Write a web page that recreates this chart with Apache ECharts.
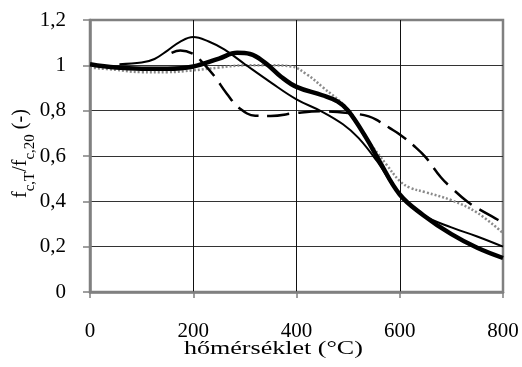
<!DOCTYPE html>
<html>
<head>
<meta charset="utf-8">
<style>html,body{margin:0;padding:0;background:#fff;}#c{width:522px;height:367px;}</style>
<script src="https://cdn.jsdelivr.net/npm/echarts@6/dist/echarts.min.js"></script>
</head>
<body>
<div id="c"></div>
<script>
var xTicks = [0, 200, 400, 600, 800];
var yTicks = [0, 0.2, 0.4, 0.6, 0.8, 1, 1.2];

var thickX = [0,50,100,150,200,250,285,310,340,370,400,450,480,500,535,560,600,645,700,750,800];
var thickY = [1.005,0.99,0.985,0.985,0.995,1.03,1.055,1.05,1.01,0.95,0.905,0.868,0.84,0.80,0.68,0.58,0.43,0.34,0.255,0.195,0.15];

var thinX = [57,100,125,150,175,200,230,260,300,350,400,450,490,520,555,600,645,700,750,800];
var thinY = [1.005,1.012,1.028,1.065,1.105,1.125,1.105,1.07,1.005,0.925,0.85,0.795,0.74,0.68,0.58,0.43,0.34,0.285,0.245,0.20];

var dashX = [158,175,200,215,240,265,290,320,350,400,450,500,540,560,580,600,630,650,680,700,730,750,785,800];
var dashY = [1.055,1.065,1.05,1.02,0.955,0.875,0.81,0.778,0.777,0.79,0.797,0.79,0.775,0.753,0.724,0.695,0.64,0.595,0.505,0.46,0.40,0.37,0.325,0.305];

var dotX = [0,50,100,150,200,250,300,350,390,420,450,500,535,575,600,620,650,700,750,800];
var dotY = [0.99,0.98,0.97,0.97,0.978,0.99,1.0,1.0,0.995,0.96,0.905,0.805,0.68,0.56,0.49,0.46,0.44,0.405,0.35,0.26];

function pairs(xs, ys) { return xs.map(function (x, i) { return [x, ys[i]]; }); }

var font = 'Liberation Serif';
var chart = echarts.init(document.getElementById('c'), null, {renderer: 'canvas'});
chart.setOption({
  animation: false,
  backgroundColor: '#fff',
  grid: {left: 90, right: 19, top: 20, bottom: 75, show: true, borderColor: '#808080', borderWidth: 2.5, backgroundColor: 'transparent'},
  xAxis: {
    type: 'value', min: 0, max: 800, interval: 200,
    axisLine: {show: true, onZero: false, lineStyle: {color: '#808080', width: 2.5}},
    axisTick: {show: true, length: 6, lineStyle: {color: '#808080', width: 1.5}},
    axisLabel: {margin: 29, color: '#000', fontFamily: font, fontSize: 21, formatter: function (v) { return String(v); }},
    splitLine: {show: true, showMinLine: false, showMaxLine: false, lineStyle: {color: '#111', width: 1}}
  },
  yAxis: {
    type: 'value', min: 0, max: 1.2, interval: 0.2,
    axisLine: {show: true, onZero: false, lineStyle: {color: '#808080', width: 2.5}},
    axisTick: {show: true, length: 7, lineStyle: {color: '#808080', width: 1.5}},
    axisLabel: {margin: 24, color: '#000', fontFamily: font, fontSize: 21,
      formatter: function (v) { return String(Math.round(v * 10) / 10).replace('.', ','); }},
    splitLine: {show: true, showMinLine: false, showMaxLine: false, lineStyle: {color: '#333', width: 1.2}}
  },
  graphic: [
    {type: 'text', x: 184, y: 340, scaleX: 1.37, style: {text: 'hőmérséklet (°C)', fontFamily: font, fontSize: 19, fill: '#000'}},
    {type: 'text', x: 11, y: 198, rotation: Math.PI / 2,
      style: {
        text: '{m|f}{s|c,T}{m|/f}{s|c,20}{m| (-)}',
        rich: {
          m: {fontFamily: font, fontSize: 20, fill: '#000', verticalAlign: 'bottom'},
          s: {fontFamily: font, fontSize: 15, fill: '#000', padding: [0, 0, -7, 0], verticalAlign: 'bottom'}
        }
      }}
  ],
  series: [
    {type: 'line', data: pairs(dotX, dotY), smooth: 0.4, showSymbol: false, z: 2,
      lineStyle: {color: '#8a8a8a', width: 2.5, type: [2, 2]}},
    {type: 'line', data: pairs(dashX, dashY), smooth: 0.4, showSymbol: false, z: 3,
      lineStyle: {color: '#000', width: 2.5, type: [22, 9]}},
    {type: 'line', data: pairs(thinX, thinY), smooth: 0.4, showSymbol: false, z: 4,
      lineStyle: {color: '#000', width: 2}},
    {type: 'line', data: pairs(thickX, thickY), smooth: 0.4, showSymbol: false, z: 5,
      lineStyle: {color: '#000', width: 4.5}}
  ]
});
</script>
</body>
</html>
